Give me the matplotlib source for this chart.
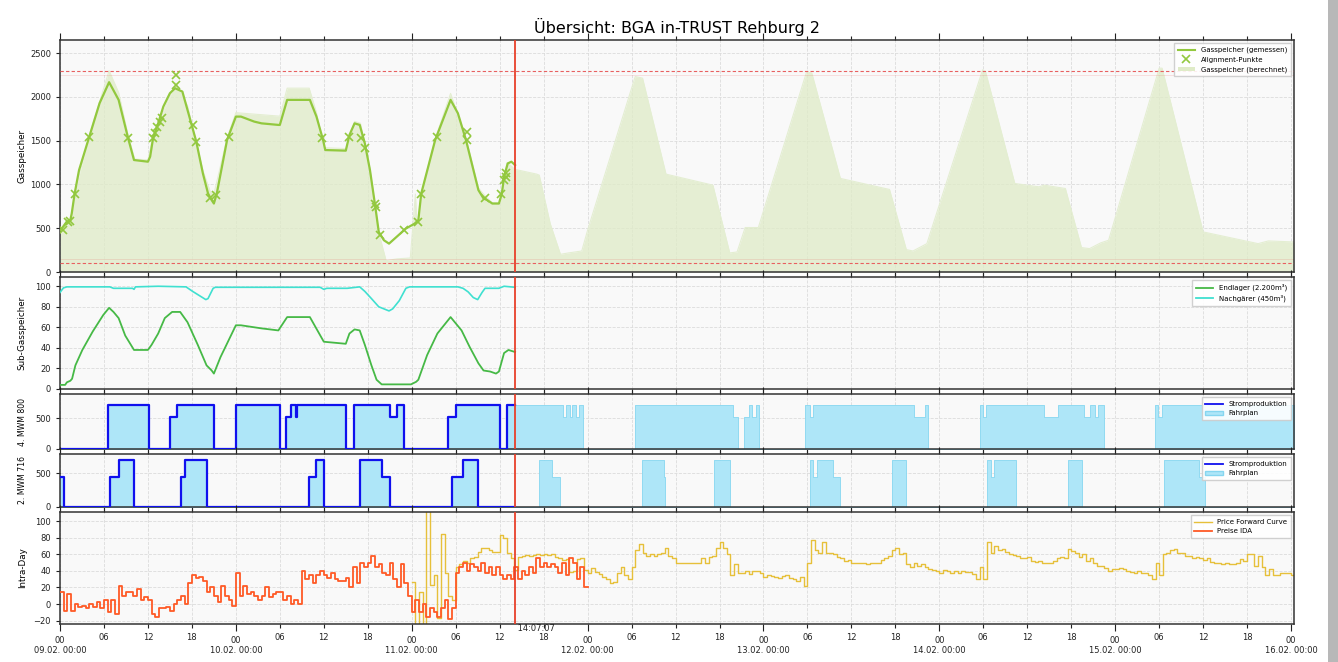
import numpy as np
import pandas as pd
import matplotlib
matplotlib.use('Agg')
import matplotlib.pyplot as plt
import matplotlib.dates as mdates
from matplotlib.lines import Line2D
from matplotlib.patches import Patch, Rectangle

plt.rcParams['font.family'] = ['DejaVu Sans']

# --- Daten (Stunden ab 09.02. 00:00) ---
T0 = pd.Timestamp('2025-02-09 00:00')
NOW_H = 62 + 7 / 60 + 7 / 3600   # 11.02. 14:07:07
END_H = 168.4

# Gasspeicher gemessen
gas_t = [0.1, 0.9, 1.4, 1.6, 2.0, 2.6, 4.0, 5.4, 6.7, 8.0, 9.3, 10.1, 12.0, 12.3, 12.7, 13.4, 14.1, 15.0, 15.7, 16.7,
         17.4, 18.6, 19.5, 20.2, 20.7, 21.0, 21.4, 22.8, 24.0, 24.7, 26.5, 27.5, 29.8, 30.0, 31.0, 34.1, 35.0, 35.9, 36.2, 39.0,
         39.5, 40.2, 40.9, 41.6, 42.3, 43.0, 43.5, 44.2, 44.9, 47.2, 48.4, 48.9, 49.3, 51.2, 53.3, 54.3, 55.4, 57.1, 57.8, 58.3,
         59.0, 59.9, 60.3, 60.6, 61.1, 61.6, 62.1]
gas_v = [480, 573, 590, 668, 897, 1164, 1546, 1928, 2168, 1966, 1527, 1279, 1260, 1317, 1527, 1698, 1889, 2042, 2099, 2061,
         1851, 1489, 1126, 897, 821, 782, 897, 1508, 1775, 1775, 1718, 1698, 1680, 1680, 1966, 1966, 1775, 1508, 1393, 1386,
         1565, 1698, 1680, 1470, 1164, 763, 458, 363, 324, 496, 553, 592, 897, 1508, 1966, 1813, 1508, 935, 840, 821,
         782, 782, 897, 1088, 1240, 1260, 1221]

# Alignment-Punkte
align_t = [0.38, 1.03, 1.41, 2.02, 4.0, 9.26, 12.69, 12.93, 13.3, 13.63, 13.87, 15.84, 15.84, 18.1, 18.57, 20.45, 21.3, 23.0,
           35.7, 39.5, 41.1, 41.6, 43.0, 43.1, 43.7, 47.0, 48.9, 49.3, 51.5, 55.5, 55.5, 58.0, 60.2, 60.6, 60.8, 60.9]
align_v = [477, 573, 584, 889, 1538, 1527, 1527, 1584, 1660, 1718, 1756, 2252, 2138, 1680, 1489, 840, 878, 1538,
           1527, 1546, 1527, 1412, 782, 744, 420, 477, 573, 886, 1538, 1603, 1508, 840, 886, 1050, 1088, 1126]

# Gasspeicher berechnet
calc_t = [0, 1.5, 2.0, 4.0, 6.7, 8.0, 9.3, 10.2, 12.0, 12.7, 15.8, 17.4, 19.5, 20.5, 21.0, 22.8, 24.0, 30.0, 31.0, 34.0,
          35.0, 36.0, 39.0, 40.2, 41.0, 42.3, 43.5, 44.5, 46.0, 47.8, 48.5, 48.7, 49.0, 49.3, 51.2, 53.3, 55.4, 57.1, 58.0, 59.0,
          60.0, 61.0, 62.1, 65.05, 65.4, 66.9, 68.3, 69.4, 71.2, 72.0, 78.5, 79.5, 82.7, 89.1, 91.4, 92.4, 93.5, 95.3, 101.9, 102.6,
          106.5, 113.2, 115.5, 116.4, 118.3, 125.9, 126.3, 130.3, 133.6, 134.3, 137.2, 139.4, 140.5, 142.0, 143.1, 150.0, 150.4,
          156.0, 163.5, 164.9, 168.4]
calc_v = [470, 590, 900, 1560, 2300, 2050, 1560, 1290, 1280, 1560, 2160, 1900, 1160, 920, 890, 1530, 1820, 1780, 2100, 2100,
          1820, 1420, 1410, 1720, 1700, 1180, 450, 130, 150, 160, 890, 560, 610, 900, 1520, 2040, 1530, 960, 870, 790,
          790, 1250, 1172, 1118, 1107, 553, 202, 218, 240, 477, 2233, 2214, 1118, 992, 218, 229, 508, 508, 2290, 2271,
          1069, 943, 256, 240, 324, 2309, 2290, 1011, 973, 992, 954, 279, 267, 332, 363, 2328, 2328,
          458, 324, 355, 343]
GAS_MAX = 2300
GAS_MIN = 100

# Sub-Gasspeicher
endlager_t = [0, 0.7, 0.94, 1.41, 1.65, 2.1, 3.05, 4.47, 5.9, 6.7, 7.3, 8.0, 8.9, 10.1, 11.0, 12.0, 12.5, 13.4, 14.3, 15.3,
              16.4, 17.4, 18.8, 20.0, 20.7, 21.0, 21.9, 24.0, 24.7, 27.5, 29.8, 31.0, 34.1, 36.0, 39.0, 39.5, 40.2, 40.9, 41.6,
              42.5, 43.2, 43.9, 47.9, 48.6, 48.9, 50.1, 51.5, 53.3, 54.8, 55.9, 57.1, 57.8, 58.7, 59.5, 59.9, 60.6, 61.2, 62.1]
endlager_v = [4, 4, 6.5, 8, 10, 23, 38, 56, 72, 79, 75, 69, 52, 38, 38, 38, 43, 54, 69, 75,
              75, 65, 43, 23, 18, 15, 31, 62, 62, 59, 57, 70, 70, 46, 44, 54, 58, 57, 43,
              23, 9, 4.5, 4.5, 7, 9, 33, 54, 70, 57, 41, 25, 18, 17, 15, 17, 35, 38, 36]
nachgaerer_t = [0, 0.47, 0.94, 6.8, 7.3, 9.9, 10.1, 10.3, 13.4, 17.2, 18.1, 19.0, 19.9, 20.2, 20.9, 21.2, 35.5, 36.0, 36.4,
                39.2, 40.9, 41.6, 42.5, 43.5, 44.9, 45.4, 46.3, 47.2, 47.7, 54.3, 55.0, 55.7, 56.4, 57.0, 57.6, 58.0, 59.9,
                60.6, 62.1]
nachgaerer_v = [94, 98.4, 99.4, 99.4, 98, 98, 97, 99.4, 100, 99.4, 95, 91, 87, 88, 98, 99, 99, 97, 98,
                98, 99.4, 95, 88, 80, 76, 78, 86, 98, 99.4, 99.4, 98, 94.5, 89, 87, 94, 98, 98,
                100, 99]

# 4. MWM 800: Stromproduktion (Ist) und Fahrplan (ab jetzt)
mwm800_strom_t = [0, 6.6, 12.1, 15.0, 16.0, 21.05, 24.0, 30.0, 30.9, 31.5, 32.2, 32.4, 39.0, 40.1, 45.0, 46.0, 47.0,
                  53.0, 54.0, 60.0, 61.0]
mwm800_strom_v = [0, 720, 0, 520, 720, 0, 720, 0, 520, 720, 520, 720, 0, 720, 520, 720, 0, 520, 720, 0, 720]
mwm800_plan_t = [NOW_H, 68.7, 69.0, 69.6, 69.9, 70.4, 70.8, 71.4, 78.5, 91.8, 92.5, 93.4, 94.05, 94.5, 95.0, 95.4,
                 101.7, 102.3, 102.7, 116.5, 118.1, 118.5, 125.5, 125.9, 126.4, 134.3, 136.2, 139.7, 140.5, 141.2,
                 141.7, 142.5, 149.4, 149.9, 150.4]
mwm800_plan_v = [720, 520, 720, 520, 720, 520, 720, 0, 720, 520, 0, 520, 720, 520, 720, 0,
                 720, 520, 720, 520, 720, 0, 720, 520, 720, 520, 720, 520, 720, 520,
                 720, 0, 720, 520, 720]

# 2. MWM 716
mwm716_strom_t = [0, 0.56, 6.8, 8.0, 10.1, 16.5, 17.0, 20.1, 34.0, 35.0, 36.0, 41.0, 43.9, 45.0, 53.5, 55.0, 57.0]
mwm716_strom_v = [440, 0, 440, 690, 0, 440, 690, 0, 440, 690, 0, 690, 440, 0, 440, 690, 0]
mwm716_plan_t = [NOW_H, 65.3, 67.1, 68.2, 79.4, 82.4, 82.6, 89.3, 91.5, 102.3, 102.7, 103.3, 105.5, 106.4, 113.5,
                 115.5, 126.5, 127.0, 127.5, 130.4, 137.5, 139.5, 150.6, 155.5, 156.3]
mwm716_plan_v = [0, 690, 440, 0, 690, 440, 0, 690, 0, 690, 440, 690, 440, 0, 690,
                 0, 690, 440, 690, 0, 690, 0, 690, 440, 0]

# Preise IDA, halbstuendlich ab 09.02. 00:00
ida_v = [15, -8, 12, -8, 0, -3, -2, -5, 0, -3, 3, -5, 5, -10,
         5, -12, 22, 10, 15, 15, 10, 18, 5, 8,
         5, -12, -15, -5, -5, -3, -8, 0, 5, 10, 0, 25,
         35, 32, 33, 28, 15, 20, 10, 3, 22, 10, 5, -2,
         38, 10, 22, 12, 15, 10, 5, 10, 20, 8, 12, 15,
         15, 5, 10, 0, 5, 0, 40, 30, 35, 25, 35, 40,
         35, 32, 38, 30, 28, 28, 32, 20, 45, 25, 50, 45,
         50, 58, 45, 48, 38, 35, 50, 30, 20, 48, 25, 10,
         -10, 5, -10, 0, -15, -5, -10, -15, -5, 5, -18, -5,
         38, 45, 50, 40, 48, 45, 40, 50, 38, 45, 35, 45,
         35, 30, 35, 30, 45, 30, 40, 35, 45, 38, 55, 45,
         50, 45, 48, 45, 38, 50, 35, 55, 50, 30, 45, 20]

# Price Forward Curve, halbstuendlich ab 11.02. 00:00
PFC_START_H = 48
pfc_v = [27, -30, 15, -30, 120, 23, 35, -17, 85, 37, 10, 5,
         45, 48, 52, 50, 55, 57, 63, 68, 68, 65, 63, 63,
         83, 80, 62, 55, 41, 57, 58, 59, 58, 59, 60, 59,
         60, 59, 60, 57, 55, 53, 54, 39, 40, 54, 56, 41,
         38, 44, 39, 36, 33, 30, 25, 27, 38, 45, 35, 30,
         45, 65, 72, 62, 58, 60, 58, 60, 62, 68, 58, 55,
         50, 50, 50, 50, 50, 50, 50, 55, 50, 57, 58, 68,
         75, 68, 60, 35, 48, 38, 38, 40, 36, 40, 40, 38,
         33, 35, 34, 33, 32, 34, 35, 32, 30, 28, 33, 22,
         50, 77, 65, 62, 75, 62, 62, 60, 57, 55, 52, 53,
         50, 50, 49, 50, 48, 50, 50, 50, 53, 55, 58, 65,
         68, 60, 62, 48, 45, 50, 46, 48, 45, 42, 41, 40,
         38, 41, 40, 38, 40, 38, 40, 39, 39, 36, 30, 45,
         30, 75, 62, 70, 65, 66, 63, 60, 59, 58, 56, 55,
         57, 52, 51, 52, 50, 50, 50, 52, 55, 57, 56, 66,
         64, 62, 57, 60, 52, 55, 50, 46, 46, 44, 40, 42,
         42, 44, 42, 40, 39, 38, 40, 38, 37, 35, 30, 50,
         35, 60, 62, 65, 66, 62, 61, 58, 58, 56, 57, 56,
         53, 55, 51, 50, 49, 48, 49, 48, 48, 50, 54, 52,
         60, 60, 46, 58, 45, 35, 42, 35, 35, 38, 37, 37,
         35, 33]


def hrs(h):
    return T0 + pd.to_timedelta(np.asarray(h, dtype=float), unit='h')


def step_xy(t, v, end):
    # Stufen bis zum Endzeitpunkt verlaengern
    return hrs(list(t) + [end]), list(v) + [v[-1]]


# --- Farben ---
C_GAS = '#92c83e'
C_CALC = '#dfebc7'
C_END = '#46b946'
C_NACH = '#3fe0d0'
C_STROM = '#1010ee'
C_PLAN = '#aee6f8'
C_PLAN_EDGE = '#86d6f0'
C_PFC = '#e6c03a'
C_IDA = '#ff5a26'
C_NOW = '#e8402a'
C_LIMIT = '#e86060'
FACE = '#f9f9f9'

W, H = 1338, 662
fig = plt.figure(figsize=(W / 100, H / 100), dpi=100)
fig.patch.set_facecolor('white')

left = 60 / W
width = (1294 - 60) / W
rows = [(40, 272), (277, 389), (394, 449), (454, 507), (512, 624)]
axes = []
for top, bottom in rows:
    ax = fig.add_axes([left, (H - bottom) / H, width, (bottom - top) / H])
    axes.append(ax)
ax1, ax2, ax3, ax4, ax5 = axes

fig.text(0.506, 1 - 27 / H, 'Übersicht: BGA in-TRUST Rehburg 2', ha='center', va='center', fontsize=11.5)

# Panel 1: Gasspeicher
calc_x = hrs(calc_t)
ax1.fill_between(calc_x, 0, calc_v, color=C_CALC, alpha=0.75, lw=0, zorder=1)
ax1.plot(calc_x, calc_v, color='#e4eed2', lw=0.8, zorder=1)
ax1.axhline(GAS_MAX - 50, color=C_LIMIT, ls='-', lw=0.6, alpha=0.2, zorder=2)
ax1.axhline(GAS_MIN + 50, color=C_LIMIT, ls='-', lw=0.6, alpha=0.2, zorder=2)
ax1.axhline(GAS_MAX, color=C_LIMIT, ls=(0, (3, 2)), lw=0.8, zorder=4)
ax1.axhline(GAS_MIN, color=C_LIMIT, ls=(0, (3, 2)), lw=0.8, zorder=4)
ax1.plot(hrs(gas_t), gas_v, color=C_GAS, lw=1.6, zorder=3)
ax1.plot(hrs(align_t), align_v, ls='none', marker='x', ms=6, mew=1.2, color=C_GAS, zorder=4)
ax1.set_ylim(0, 2650)
ax1.set_yticks([0, 500, 1000, 1500, 2000, 2500])
ax1.set_ylabel('Gasspeicher')
h1 = [Line2D([], [], color=C_GAS, lw=1.5),
      Line2D([], [], color=C_GAS, ls='none', marker='x', ms=6, mew=1.2),
      Patch(facecolor=C_CALC, edgecolor='none')]
ax1.legend(h1, ['Gasspeicher (gemessen)', 'Alignment-Punkte', 'Gasspeicher (berechnet)'], loc='upper right',
           fontsize=5, framealpha=0.9, edgecolor='#cccccc', fancybox=False, borderpad=0.5, handlelength=2.5)

# Panel 2: Sub-Gasspeicher
ax2.plot(hrs(endlager_t), endlager_v, color=C_END, lw=1.3, zorder=3)
ax2.plot(hrs(nachgaerer_t), nachgaerer_v, color=C_NACH, lw=1.2, zorder=3)
ax2.set_ylim(0, 109)
ax2.set_yticks([0, 20, 40, 60, 80, 100])
ax2.set_ylabel('Sub-Gasspeicher')
ax2.legend([Line2D([], [], color=C_END, lw=1.3), Line2D([], [], color=C_NACH, lw=1.3)],
           ['Endlager (2.200m³)', 'Nachgärer (450m³)'], loc='upper right', fontsize=5,
           framealpha=0.9, edgecolor='#cccccc', fancybox=False, borderpad=0.5, handlelength=2.5)

# Panels 3 und 4: Motoren
for ax, st, sv, pt, pv, lim, name in [
        (ax3, mwm800_strom_t, mwm800_strom_v, mwm800_plan_t, mwm800_plan_v, 890, '4. MWM 800'),
        (ax4, mwm716_strom_t, mwm716_strom_v, mwm716_plan_t, mwm716_plan_v, 780, '2. MWM 716')]:
    fx, fy = step_xy(list(st) + list(pt), list(sv) + list(pv), END_H)
    ax.fill_between(fx, 0, fy, step='post', color=C_PLAN, edgecolor=C_PLAN_EDGE, lw=0.6, zorder=1)
    sx, sy = step_xy(st, sv, NOW_H)
    ax.step(sx, sy, where='post', color=C_STROM, lw=1.6, zorder=3)
    ax.set_ylim(0, lim)
    ax.set_yticks([0, 500])
    ax.set_ylabel(name)
    ax.legend([Line2D([], [], color=C_STROM, lw=1.3), Patch(facecolor=C_PLAN, edgecolor=C_PLAN_EDGE)],
              ['Stromproduktion', 'Fahrplan'], loc='upper right', fontsize=5, framealpha=0.9,
              edgecolor='#cccccc', fancybox=False, borderpad=0.5, handlelength=2.5)

# Panel 5: Intra-Day Preise
pfc_h = PFC_START_H + 0.5 * np.arange(len(pfc_v))
px, py = step_xy(pfc_h, pfc_v, pfc_h[-1] + 0.5)
ax5.step(px, py, where='post', color=C_PFC, lw=1.0, zorder=2, label='Price Forward Curve')
ida_h = 0.5 * np.arange(len(ida_v))
ix, iy = step_xy(ida_h, ida_v, 72)
ax5.step(ix, iy, where='post', color=C_IDA, lw=1.3, zorder=3, label='Preise IDA')
ax5.set_ylim(-24, 111)
ax5.set_yticks([-20, 0, 20, 40, 60, 80, 100])
ax5.set_ylabel('Intra-Day')
ax5.legend(loc='upper right', fontsize=5, framealpha=0.9, edgecolor='#cccccc', fancybox=False,
           borderpad=0.5, handlelength=2.5)

now_x = hrs([NOW_H])[0]
for ax in axes:
    ax.set_facecolor(FACE)
    ax.set_xlim(hrs([0])[0], hrs([END_H])[0])
    ax.axvline(now_x, color=C_NOW, lw=1.3, zorder=5)
    ax.xaxis.set_major_locator(mdates.DayLocator())
    ax.xaxis.set_minor_locator(mdates.HourLocator(byhour=[6, 12, 18]))
    ax.xaxis.set_major_formatter(mdates.DateFormatter('%H\n%d.%m. %H:%M'))
    ax.xaxis.set_minor_formatter(mdates.DateFormatter('%H'))
    ax.grid(which='both', axis='x', color='#dcdcdc', ls='--', lw=0.6)
    ax.grid(which='major', axis='y', color='#dcdcdc', ls='--', lw=0.6)
    ax.set_axisbelow(True)
    ax.tick_params(axis='both', which='both', labelsize=6, colors='#222222', width=0.8)
    ax.tick_params(axis='x', which='major', length=5, top=True)
    ax.tick_params(axis='x', which='minor', length=3, top=True)
    ax.tick_params(axis='y', length=3)
    ax.yaxis.label.set_fontsize(6.3)
    ax.yaxis.set_label_coords(-0.027, 0.5)
    for s in ax.spines.values():
        s.set_color('#333333')
        s.set_linewidth(1.1)
    if ax is not ax5:
        ax.tick_params(axis='x', which='both', labelbottom=False)

# kurze Achsen: Beschriftung etwas kleiner, damit sie nicht ueberlappt
for ax in (ax3, ax4):
    ax.yaxis.label.set_fontsize(5.6)

ax5.text(now_x, -24, ' 14:07:07', ha='left', va='top', fontsize=6, color='#222222')

# Rahmen des Screenshots
fig.patches.append(Rectangle((1328 / W, 0), 10 / W, 1, transform=fig.transFigure,
                             facecolor='#b8b8b8', edgecolor='none'))

fig.savefig('out.png', dpi=100)
